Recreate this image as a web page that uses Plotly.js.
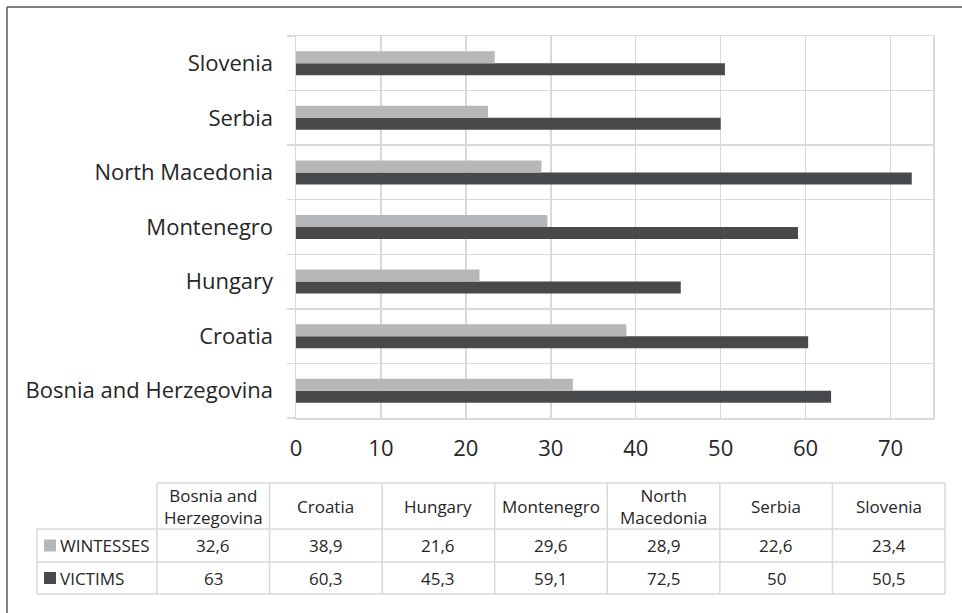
<!DOCTYPE html>
<html>
<head>
<meta charset="utf-8">
<script src="https://cdn.plot.ly/plotly-3.0.1.min.js"></script>
<style>html,body{margin:0;padding:0;background:#fff;}#chart{width:962px;height:613px;}</style>
</head>
<body>
<div id="chart"></div>
<script>
// ---- data ----
const categories = ["Bosnia and Herzegovina", "Croatia", "Hungary", "Montenegro", "North Macedonia", "Serbia", "Slovenia"];
const tableHeaders = ["Bosnia and<br>Herzegovina", "Croatia", "Hungary", "Montenegro", "North<br>Macedonia", "Serbia", "Slovenia"];
const witnesses = [32.6, 38.9, 21.6, 29.6, 28.9, 22.6, 23.4];
const victims = [63, 60.3, 45.3, 59.1, 72.5, 50, 50.5];
const seriesNames = ["WINTESSES", "VICTIMS"];
const xTicks = [0, 10, 20, 30, 40, 50, 60, 70];

// ---- style ----
const W = 962, H = 613;
const FONT = "Open Sans, sans-serif";
const TXT = "#262626";
const GRID = "#d9d9d9";
const C_W = "#b6b7b9", C_V = "#48494b";
const px = x => x / W;
const py = y => 1 - y / H;

const traces = [
  {type: "bar", orientation: "h", name: seriesNames[1], y: categories, x: victims,
   marker: {color: C_V}, hoverinfo: "x+y"},
  {type: "bar", orientation: "h", name: seriesNames[0], y: categories, x: witnesses,
   marker: {color: C_W}, hoverinfo: "x+y"}
];

// table geometry (pixels)
const tLeft = 37, tFirstCol = 157, tRight = 945;
const rowEdges = [483, 529, 562, 594];
const nCols = categories.length;
const colW = (tRight - tFirstCol) / nCols;

const shapes = [];
const annotations = [];
const lineStyle = {color: GRID, width: 1.5};
// outer frame (left + top)
shapes.push({type: "line", xref: "paper", yref: "paper", x0: px(7), x1: px(7), y0: py(7), y1: py(H + 5), line: {color: "#5a5a5a", width: 1.5}});
shapes.push({type: "line", xref: "paper", yref: "paper", x0: px(7), x1: px(W + 5), y0: py(7), y1: py(7), line: {color: "#5a5a5a", width: 1.5}});
// table horizontal lines
rowEdges.forEach((y, i) => {
  shapes.push({type: "line", xref: "paper", yref: "paper", x0: px(i === 0 ? tFirstCol : tLeft), x1: px(tRight), y0: py(y), y1: py(y), line: lineStyle});
});
// table vertical lines
shapes.push({type: "line", xref: "paper", yref: "paper", x0: px(tLeft), x1: px(tLeft), y0: py(rowEdges[1]), y1: py(rowEdges[3]), line: lineStyle});
for (let c = 0; c <= nCols; c++) {
  const x = tFirstCol + c * colW;
  shapes.push({type: "line", xref: "paper", yref: "paper", x0: px(x), x1: px(x), y0: py(rowEdges[0]), y1: py(rowEdges[3]), line: lineStyle});
}
const fmt = v => String(v).replace(".", ",");
const tFont = {family: FONT, size: 17, color: TXT};
// header
tableHeaders.forEach((h, c) => {
  annotations.push({xref: "paper", yref: "paper", x: px(tFirstCol + (c + 0.5) * colW), y: py((rowEdges[0] + rowEdges[1]) / 2),
    text: h, showarrow: false, xanchor: "center", yanchor: "middle", font: tFont, align: "center"});
});
// rows
const rowData = [witnesses, victims];
const rowColors = [C_W, C_V];
rowData.forEach((arr, r) => {
  const yc = py((rowEdges[r + 1] + rowEdges[r + 2]) / 2);
  // legend key square
  shapes.push({type: "rect", xref: "paper", yref: "paper", x0: px(44), x1: px(56), y0: py((rowEdges[r + 1] + rowEdges[r + 2]) / 2 + 6), y1: py((rowEdges[r + 1] + rowEdges[r + 2]) / 2 - 6),
    fillcolor: rowColors[r], line: {width: 0}});
  annotations.push({xref: "paper", yref: "paper", x: px(58), y: yc, xanchor: "left", yanchor: "middle", showarrow: false,
    text: seriesNames[r], font: tFont});
  arr.forEach((v, c) => {
    annotations.push({xref: "paper", yref: "paper", x: px(tFirstCol + (c + 0.5) * colW), y: yc, xanchor: "center", yanchor: "middle",
      showarrow: false, text: fmt(v), font: tFont});
  });
});

const layout = {
  width: W, height: H,
  margin: {l: 0, r: 0, t: 0, b: 0},
  paper_bgcolor: "#fff", plot_bgcolor: "#fff",
  showlegend: false,
  barmode: "group", bargap: 0.56, bargroupgap: 0,
  font: {family: FONT, color: TXT},
  xaxis: {domain: [px(296), px(933)], range: [0, 75], tickvals: xTicks, ticktext: xTicks.map(String),
    showgrid: true, gridcolor: GRID, gridwidth: 1.5, zeroline: false,
    showline: true, mirror: true, linecolor: GRID, linewidth: 1.5,
    ticks: "", ticklabelstandoff: 10, tickfont: {family: FONT, size: 22, color: TXT}, fixedrange: true},
  yaxis: {domain: [py(418), py(36)], type: "category", categoryorder: "array", categoryarray: categories,
    tickson: "boundaries", ticks: "outside", ticklen: 8, tickcolor: GRID, tickwidth: 1.5,
    showgrid: true, gridcolor: GRID, gridwidth: 1.5,
    showline: true, mirror: true, linecolor: GRID, linewidth: 1.5,
    ticklabelstandoff: 17, tickfont: {family: FONT, size: 22, color: TXT}, fixedrange: true},
  shapes: shapes,
  annotations: annotations
};

Plotly.newPlot("chart", traces, layout, {displayModeBar: false, staticPlot: true});
</script>
</body>
</html>
